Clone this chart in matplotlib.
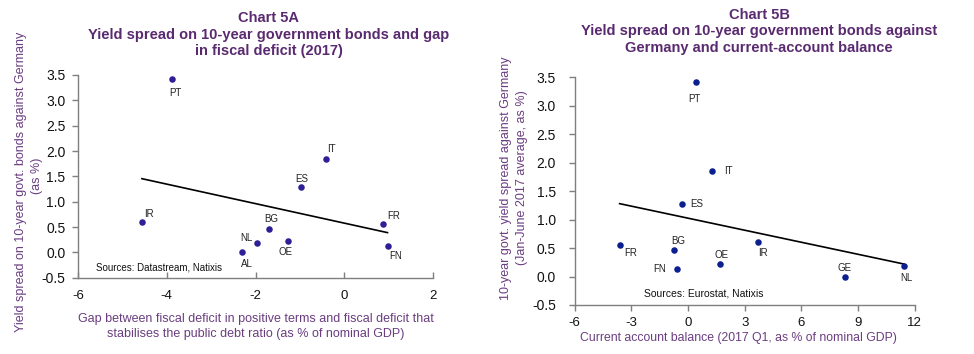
import numpy as np
import matplotlib
matplotlib.use("Agg")
import matplotlib.pyplot as plt

plt.rcParams['font.family'] = ['Liberation Sans', 'DejaVu Sans']

# ---- Chart 5A data ----
a_countries = ["PT", "IT", "ES", "IR", "BG", "NL", "OE", "AL", "FR", "FN"]
a_gap = [-3.88, -0.41, -0.98, -4.56, -1.69, -1.97, -1.26, -2.30, 0.87, 0.975]
a_spread = [3.42, 1.84, 1.28, 0.60, 0.46, 0.19, 0.22, 0.00, 0.56, 0.125]

# ---- Chart 5B data ----
b_countries = ["PT", "IT", "ES", "FR", "BG", "FN", "OE", "IR", "GE", "NL"]
b_ca = [0.41, 1.29, -0.30, -3.62, -0.74, -0.58, 1.68, 3.71, 8.29, 11.43]
b_spread = [3.42, 1.85, 1.28, 0.56, 0.46, 0.135, 0.22, 0.61, 0.00, 0.19]

a_xticks = [-6, -4, -2, 0, 2]
b_xticks = [-6, -3, 0, 3, 6, 9, 12]
yticks = [-0.5, 0.0, 0.5, 1.0, 1.5, 2.0, 2.5, 3.0, 3.5]

# label offsets (pixels) – styling only
a_off = {"PT": (3, -14), "IT": (5, 10), "ES": (1, 8), "IR": (7, 8), "BG": (2, 10),
         "NL": (-10, 5), "OE": (-3, -11), "AL": (5, -12), "FR": (11, 8), "FN": (8, -10)}
b_off = {"PT": (-1, -17), "IT": (16, 0), "ES": (14, 0), "FR": (11, -8), "BG": (4, 9),
         "FN": (-17, 0), "OE": (2, 9), "IR": (5, -11), "GE": (0, 9), "NL": (2, -12)}

TITLE_C = "#5A2A70"
LABEL_C = "#6A3D80"
SPINE_C = "#7F7F7F"

W, H = 974, 354
fig = plt.figure(figsize=(W / 100, H / 100), dpi=100)

def ax_rect(x0, x1, ytop, ybot):
    return [x0 / W, 1 - ybot / H, (x1 - x0) / W, (ybot - ytop) / H]

axA = fig.add_axes(ax_rect(78, 433, 75, 277.7))
axB = fig.add_axes(ax_rect(574.7, 914.7, 77.2, 305))

def style(ax, xticks, xdir, xpad, ypad):
    for s in ["top", "right"]:
        ax.spines[s].set_visible(False)
    for s in ["left", "bottom"]:
        ax.spines[s].set_color(SPINE_C)
        ax.spines[s].set_linewidth(1.0)
    ax.set_yticks(yticks)
    ax.set_yticklabels([f"{v:.1f}" for v in yticks])
    ax.set_ylim(-0.5, 3.5)
    ax.set_xticks(xticks)
    ax.set_xticklabels([f"{v:d}" for v in xticks])
    ax.set_xlim(xticks[0], xticks[-1])
    ax.tick_params(axis='y', direction='out', length=4, width=1, color=SPINE_C,
                   labelsize=10, pad=ypad, labelcolor="#111111")
    ax.tick_params(axis='x', direction=xdir, length=4, width=1, color=SPINE_C,
                   labelsize=9.5, pad=xpad, labelcolor="#111111")
    ax.patch.set_alpha(0)

style(axA, a_xticks, 'in', 9, 5)
style(axB, b_xticks, 'out', 4.5, 9.5)

def draw(ax, xs, ys, names, offs, color):
    xs = np.array(xs); ys = np.array(ys)
    k, b = np.polyfit(xs, ys, 1)
    xl = np.array([xs.min(), xs.max()])
    ax.plot(xl, k * xl + b, color="black", lw=1.2, zorder=2)
    ax.scatter(xs, ys, s=22, color=color, zorder=3, linewidths=0)
    for x, y, n in zip(xs, ys, names):
        dx, dy = offs[n]
        ax.annotate(n, (x, y), xytext=(dx, dy), textcoords='offset pixels',
                    ha='center', va='center', fontsize=7, color="#222222")
    for s in ax.spines.values():
        s.set_clip_on(False)

draw(axA, a_gap, a_spread, a_countries, a_off, "#2E1F96")
draw(axB, b_ca, b_spread, b_countries, b_off, "#0B1F8E")

# titles
fig.text(269 / W, 1 - 18 / H, "Chart 5A", ha='center', va='center',
         fontsize=10.5, fontweight='bold', color=TITLE_C)
fig.text(269 / W, 1 - 34.5 / H, "Yield spread on 10-year government bonds and gap",
         ha='center', va='center', fontsize=10.5, fontweight='bold', color=TITLE_C)
fig.text(269 / W, 1 - 51 / H, "in fiscal deficit (2017)", ha='center', va='center',
         fontsize=10.5, fontweight='bold', color=TITLE_C)

fig.text(759 / W, 1 - 15 / H, "Chart 5B", ha='center', va='center',
         fontsize=10.5, fontweight='bold', color=TITLE_C)
fig.text(759 / W, 1 - 31 / H, "Yield spread on 10-year government bonds against",
         ha='center', va='center', fontsize=10.5, fontweight='bold', color=TITLE_C)
fig.text(759 / W, 1 - 48 / H, "Germany and current-account balance",
         ha='center', va='center', fontsize=10.5, fontweight='bold', color=TITLE_C)

# axis labels
fig.text(256 / W, 1 - 319 / H, "Gap between fiscal deficit in positive terms and fiscal deficit that",
         ha='center', va='center', fontsize=9, color=LABEL_C)
fig.text(256 / W, 1 - 334 / H, "stabilises the public debt ratio (as % of nominal GDP)",
         ha='center', va='center', fontsize=9, color=LABEL_C)
fig.text(21 / W, 1 - 182 / H, "Yield spread on 10-year govt. bonds against Germany",
         ha='center', va='center', rotation=90, fontsize=9, color=LABEL_C)
fig.text(37 / W, 1 - 176 / H, "(as %)",
         ha='center', va='center', rotation=90, fontsize=9, color=LABEL_C)

fig.text(738.5 / W, 1 - 338 / H, "Current account balance (2017 Q1, as % of nominal GDP)",
         ha='center', va='center', fontsize=8.8, color=LABEL_C)
fig.text(506 / W, 1 - 178 / H, "10-year govt. yield spread against Germany",
         ha='center', va='center', rotation=90, fontsize=9, color=LABEL_C)
fig.text(522 / W, 1 - 178 / H, "(Jan-June 2017 average, as %)",
         ha='center', va='center', rotation=90, fontsize=9, color=LABEL_C)

# sources
fig.text(96 / W, 1 - 267 / H, "Sources: Datastream, Natixis", ha='left', va='center',
         fontsize=7, color="#111111")
fig.text(644 / W, 1 - 293 / H, "Sources: Eurostat, Natixis", ha='left', va='center',
         fontsize=7.5, color="#111111")

fig.savefig("out.png", dpi=100)
